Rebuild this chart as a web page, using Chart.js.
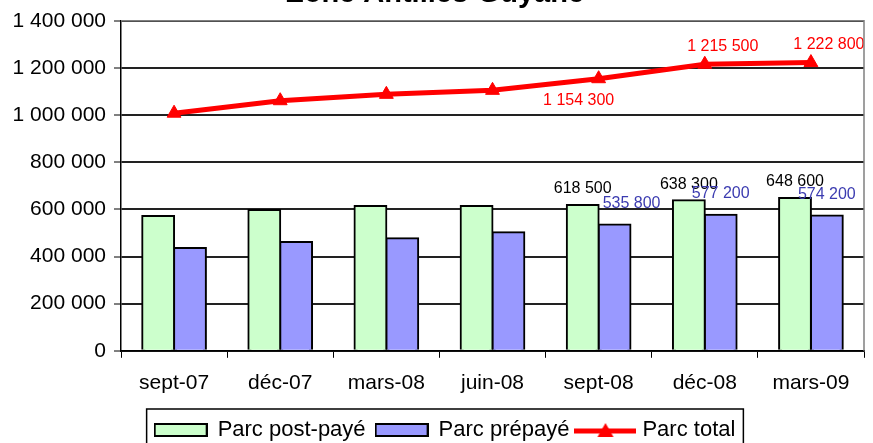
<!DOCTYPE html>
<html>
<head>
<meta charset="utf-8">
<script src="https://cdn.jsdelivr.net/npm/chart.js@4/dist/chart.umd.min.js"></script>
<style>
  html, body { margin: 0; padding: 0; background: #fff; }
  #wrap { width: 873px; height: 443px; }
</style>
</head>
<body>
<div id="wrap"><canvas id="chart" width="873" height="443"></canvas></div>
<script>
const categories = ["sept-07", "déc-07", "mars-08", "juin-08", "sept-08", "déc-08", "mars-09"];
const postPaye = [572000, 597000, 614000, 614000, 618500, 638300, 648600];
const prepaye = [436000, 462000, 478000, 503000, 535800, 577200, 574200];
const total = [1008000, 1061000, 1088000, 1105000, 1154300, 1215500, 1222800];
const yTicks = [0, 200000, 400000, 600000, 800000, 1000000, 1200000, 1400000];
const labelled = [4, 5, 6]; // points that carry a value label

const FONT = "Arial, 'Liberation Sans', sans-serif";

function fmt(n) {
    return String(n).replace(/\B(?=(\d{3})+(?!\d))/g, " ");
}

// little pictures for the legend
function legendBox(fill) {
    const c = document.createElement("canvas");
    c.width = 54;
    c.height = 14;
    const ctx = c.getContext("2d");
    ctx.fillStyle = fill;
    ctx.fillRect(1, 1, 52, 12);
    ctx.strokeStyle = "#000";
    ctx.lineWidth = 2;
    ctx.strokeRect(1, 1, 52, 12);
    return c;
}

function legendLine() {
    const c = document.createElement("canvas");
    c.width = 62;
    c.height = 16;
    const ctx = c.getContext("2d");
    ctx.strokeStyle = "#ff0000";
    ctx.lineWidth = 5;
    ctx.beginPath();
    ctx.moveTo(0, 9);
    ctx.lineTo(62, 9);
    ctx.stroke();
    ctx.fillStyle = "#ff0000";
    ctx.beginPath();
    ctx.moveTo(31, 1);
    ctx.lineTo(39, 15);
    ctx.lineTo(23, 15);
    ctx.closePath();
    ctx.fill();
    return c;
}

const valueLabels = {
    id: "valueLabels",
    afterDatasetsDraw(chart) {
        const ctx = chart.ctx;
        ctx.save();
        ctx.font = "16px " + FONT;
        ctx.textAlign = "center";
        ctx.textBaseline = "middle";
        const green = chart.getDatasetMeta(0).data;
        const blue = chart.getDatasetMeta(1).data;
        const red = chart.getDatasetMeta(2).data;
        labelled.forEach((i) => {
            ctx.fillStyle = "#000";
            ctx.fillText(fmt(postPaye[i]), green[i].x, green[i].y - 16);
            ctx.fillStyle = "#3b3bb0";
            const shift = i === 4 ? 17 : 0;
            ctx.fillText(fmt(prepaye[i]), blue[i].x + shift, blue[i].y - 21);
            ctx.fillStyle = "#ff0000";
            if (i === 4) {
                ctx.fillText(fmt(total[i]), red[i].x - 20, red[i].y + 22);
            } else {
                ctx.fillText(fmt(total[i]), red[i].x + 18, red[i].y - 18);
            }
        });
        ctx.restore();
    },
};

const legendFrame = {
    id: "legendFrame",
    afterLayout(chart) {
        // the original legend sits a bit right of centre
        chart.legend.left += 10;
        chart.legend.right += 10;
    },
    afterDraw(chart) {
        const boxes = chart.legend.legendHitBoxes;
        if (!boxes || !boxes.length) return;
        const left = Math.min(...boxes.map((b) => b.left)) - 8;
        const right = Math.max(...boxes.map((b) => b.left + b.width)) + 8;
        const top = boxes[0].top - 10;
        const ctx = chart.ctx;
        ctx.save();
        ctx.strokeStyle = "#000";
        ctx.lineWidth = 1.5;
        ctx.strokeRect(left, top, right - left, 60);
        // plot frame, top and right
        const a = chart.chartArea;
        ctx.strokeStyle = "#808080";
        ctx.lineWidth = 1.5;
        ctx.beginPath();
        ctx.moveTo(a.left, a.top);
        ctx.lineTo(a.right, a.top);
        ctx.lineTo(a.right, a.bottom);
        ctx.stroke();
        ctx.restore();
    },
};

new Chart("chart", {
    data: {
        labels: categories,
        datasets: [
            {
                type: "bar",
                label: "Parc post-payé",
                data: postPaye,
                backgroundColor: "#ccffcc",
                borderColor: "#000",
                borderWidth: 2,
                inflateAmount: 1,
                order: 1,
            },
            {
                type: "bar",
                label: "Parc prépayé",
                data: prepaye,
                backgroundColor: "#9999ff",
                borderColor: "#000",
                borderWidth: 2,
                inflateAmount: 1,
                order: 1,
            },
            {
                type: "line",
                label: "Parc total",
                data: total,
                borderColor: "#ff0000",
                backgroundColor: "#ff0000",
                borderWidth: 5,
                pointStyle: "triangle",
                pointRadius: 8,
                pointBorderWidth: 1,
                pointBackgroundColor: "#ff0000",
                pointBorderColor: "#ff0000",
                tension: 0,
                fill: false,
                order: 0,
            },
        ],
    },
    options: {
        responsive: false,
        animation: false,
        devicePixelRatio: 1,
        layout: { padding: { left: 0, right: 3, top: 0, bottom: -8 } },
        datasets: {
            bar: { categoryPercentage: 0.6, barPercentage: 1.0 },
        },
        plugins: {
            title: {
                display: true,
                text: "Zone Antilles-Guyane",
                color: "#000",
                font: { family: FONT, size: 29, weight: "bold" },
                padding: { top: -23, bottom: 9 },
            },
            legend: {
                position: "bottom",
                labels: {
                    usePointStyle: true,
                    pointStyleWidth: 52,
                    color: "#000",
                    font: { family: FONT, size: 22 },
                    padding: 10,
                    generateLabels: () => [
                        { text: "Parc post-payé", pointStyle: legendBox("#ccffcc"), datasetIndex: 0, fontColor: "#000" },
                        { text: "Parc prépayé", pointStyle: legendBox("#9999ff"), datasetIndex: 1, fontColor: "#000" },
                        { text: "Parc total", pointStyle: legendLine(), datasetIndex: 2, fontColor: "#000" },
                    ],
                },
            },
            tooltip: { enabled: false },
        },
        scales: {
            x: {
                offset: true,
                grid: {
                    offset: true,
                    drawOnChartArea: false,
                    tickLength: 7,
                    color: "#000",
                },
                border: { color: "#000", width: 1.5 },
                ticks: {
                    color: "#000",
                    font: { family: FONT, size: 21 },
                    padding: 13,
                    maxRotation: 0,
                },
            },
            y: {
                min: 0,
                max: 1400000,
                afterBuildTicks: (scale) => {
                    scale.ticks = yTicks.map((v) => ({ value: v }));
                },
                afterFit: (scale) => {
                    scale.width = 121;
                },
                grid: {
                    color: "#222",
                    lineWidth: 2,
                    tickLength: 7,
                    tickColor: "#000",
                    tickWidth: 1,
                },
                border: { color: "#000", width: 1.5 },
                ticks: {
                    color: "#000",
                    font: { family: FONT, size: 21 },
                    padding: 8,
                    callback: (v) => fmt(v),
                },
            },
        },
    },
    plugins: [valueLabels, legendFrame],
});
</script>
</body>
</html>
